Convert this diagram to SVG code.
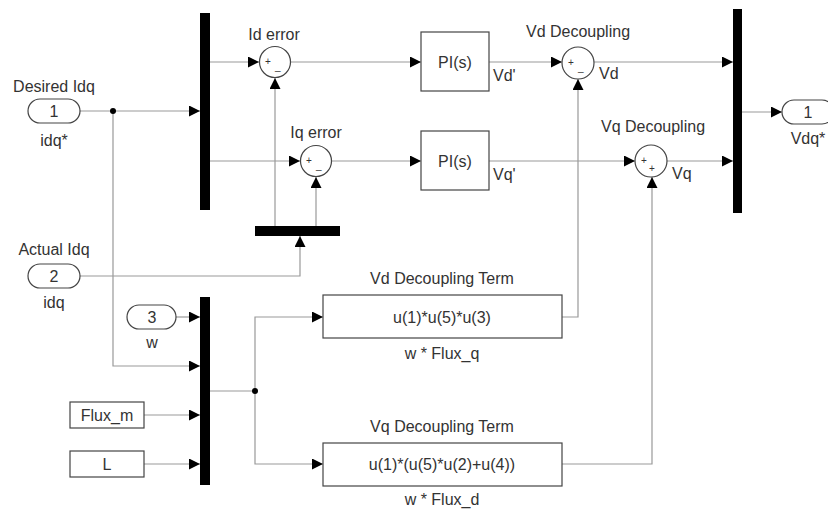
<svg xmlns="http://www.w3.org/2000/svg" width="828" height="509" viewBox="0 0 828 509">
<defs>
<marker id="ah" viewBox="0 0 10 10" refX="10" refY="5" markerWidth="11" markerHeight="11" markerUnits="userSpaceOnUse" orient="auto"><path d="M0,0 L10,5 L0,10 z" fill="#000"/></marker>
<style>
.w{fill:none;stroke:#999;stroke-width:1.2}
.a{marker-end:url(#ah)}
.blk{fill:#fff;stroke:#444;stroke-width:1.2}
.bar{fill:#000}
text{font-family:"Liberation Sans",Arial,sans-serif;fill:#333}
.t{font-size:16px}
.c{text-anchor:middle}
.s{font-size:10px}
</style>
</defs>
<rect width="828" height="509" fill="#fff"/>
<g id="connectors">
<path class="w a" d="M80,111 H200"/>
<path class="w a" d="M113,111 V366 H200"/>
<path class="w a" d="M210,62 H259"/>
<path class="w a" d="M210,161 H300"/>
<path class="w a" d="M80,276 H300 V236"/>
<path class="w a" d="M275,226 V78"/>
<path class="w a" d="M316,226 V177"/>
<path class="w a" d="M290,62 H421"/>
<path class="w a" d="M332,161 H421"/>
<path class="w a" d="M489,62 H562"/>
<path class="w a" d="M489,161 H635"/>
<path class="w a" d="M594,62 H733"/>
<path class="w a" d="M667,161 H733"/>
<path class="w a" d="M742,112 H782"/>
<path class="w a" d="M176,317 H200"/>
<path class="w a" d="M144,415 H200"/>
<path class="w a" d="M144,464 H200"/>
<path class="w" d="M210,391 H255"/>
<path class="w a" d="M255,391 V317 H323"/>
<path class="w a" d="M255,391 V464 H323"/>
<path class="w a" d="M562,317 H578 V79"/>
<path class="w a" d="M562,464 H652 V177"/>
<circle cx="113" cy="111" r="3" fill="#000"/>
<circle cx="255" cy="391" r="3" fill="#000"/>
</g>
<g id="in1">
<rect class="blk" x="28" y="99" width="52" height="24" rx="12"/>
<text class="t c" x="54" y="117">1</text>
<text class="t c" x="54" y="92">Desired Idq</text>
<text class="t c" x="54" y="146">idq*</text>
</g>
<g id="in2">
<rect class="blk" x="28" y="264" width="52" height="24" rx="12"/>
<text class="t c" x="54" y="282">2</text>
<text class="t c" x="54" y="255">Actual Idq</text>
<text class="t c" x="54" y="308">idq</text>
</g>
<g id="in3">
<rect class="blk" x="127" y="305" width="49" height="24" rx="12"/>
<text class="t c" x="152" y="323">3</text>
<text class="t c" x="152" y="348">w</text>
</g>
<g id="fluxm">
<rect class="blk" x="70" y="402" width="74" height="26"/>
<text class="t c" x="107" y="421">Flux_m</text>
</g>
<g id="L">
<rect class="blk" x="70" y="451" width="74" height="26"/>
<text class="t c" x="107" y="470">L</text>
</g>
<g id="bus1"><rect class="bar" x="200" y="13" width="10" height="197"/></g>
<g id="bus2"><rect class="bar" x="200" y="297" width="10" height="188"/></g>
<g id="demux"><rect class="bar" x="255" y="226" width="85" height="10"/></g>
<g id="bus3"><rect class="bar" x="733" y="9" width="9" height="204"/></g>
<g id="sumId">
<circle class="blk" cx="275" cy="62" r="15.5"/>
<text class="s" x="265" y="65">+</text>
<text class="s" x="275" y="70">_</text>
<text class="t c" x="274" y="40">Id error</text>
</g>
<g id="sumIq">
<circle class="blk" cx="316" cy="161" r="15.5"/>
<text class="s" x="306" y="164">+</text>
<text class="s" x="316" y="169">_</text>
<text class="t c" x="316" y="138">Iq error</text>
</g>
<g id="pi1">
<rect class="blk" x="421" y="32" width="68" height="59"/>
<text class="t c" x="455" y="68">PI(s)</text>
<text class="t" x="493" y="81">Vd'</text>
</g>
<g id="pi2">
<rect class="blk" x="421" y="131" width="68" height="59"/>
<text class="t c" x="455" y="167">PI(s)</text>
<text class="t" x="493" y="180">Vq'</text>
</g>
<g id="sumVd">
<circle class="blk" cx="578" cy="63" r="16"/>
<text class="s" x="568" y="66">+</text>
<text class="s" x="578" y="71">_</text>
<text class="t c" x="578" y="37">Vd Decoupling</text>
<text class="t" x="599" y="79">Vd</text>
</g>
<g id="sumVq">
<circle class="blk" cx="651" cy="161" r="16"/>
<text class="s" x="641" y="164">+</text>
<text class="s" x="649" y="172">+</text>
<text class="t c" x="653" y="132">Vq Decoupling</text>
<text class="t" x="672" y="179">Vq</text>
</g>
<g id="out1">
<rect class="blk" x="782" y="100" width="52" height="24" rx="12"/>
<text class="t c" x="808" y="118">1</text>
<text class="t c" x="808" y="144">Vdq*</text>
</g>
<g id="fcn1">
<rect class="blk" x="323" y="295" width="239" height="43"/>
<text class="t c" x="442" y="323">u(1)*u(5)*u(3)</text>
<text class="t c" x="442" y="284">Vd Decoupling Term</text>
<text class="t c" x="442" y="359">w * Flux_q</text>
</g>
<g id="fcn2">
<rect class="blk" x="323" y="443" width="239" height="43"/>
<text class="t c" x="442" y="470">u(1)*(u(5)*u(2)+u(4))</text>
<text class="t c" x="442" y="432">Vq Decoupling Term</text>
<text class="t c" x="442" y="505">w * Flux_d</text>
</g>
</svg>
